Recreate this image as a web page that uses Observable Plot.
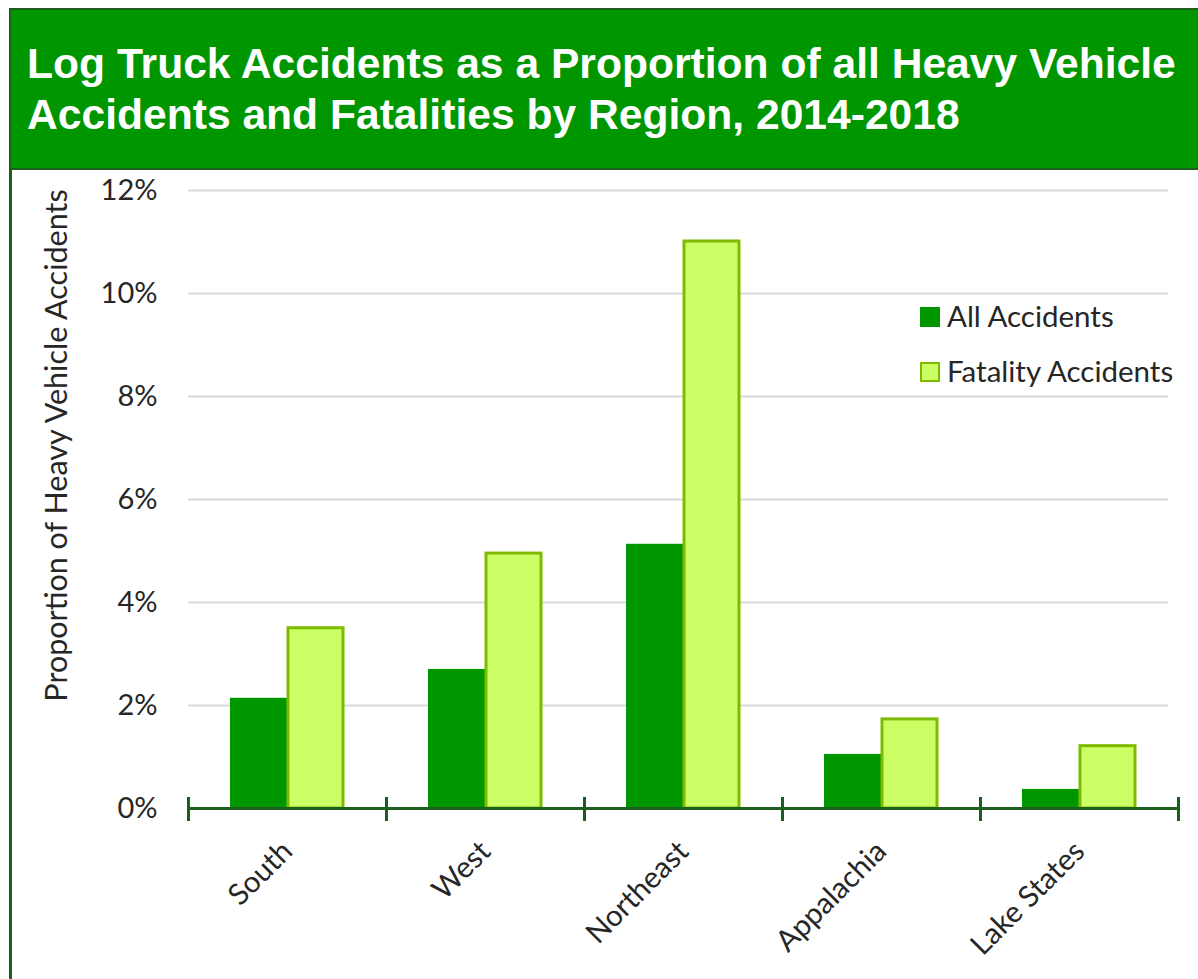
<!DOCTYPE html>
<html>
<head>
<meta charset="utf-8">
<script src="https://cdn.jsdelivr.net/npm/d3@7"></script>
<script src="https://cdn.jsdelivr.net/npm/@observablehq/plot@0.6"></script>
<style>
  html, body { margin: 0; padding: 0; background: #fff; }
  #page { position: relative; width: 1198px; height: 979px; overflow: hidden; background: #fff; }
  #banner { position: absolute; left: 9px; top: 8px; width: 1200px; height: 158px; background: #009600; border: 2px solid #1c5e1c; box-sizing: content-box; }
  #title { position: absolute; left: 16px; top: 28px; color: #fff; font-family: "Liberation Sans", Arial, sans-serif; font-weight: bold; font-size: 42.6px; line-height: 51px; white-space: nowrap; }
  #leftline { position: absolute; left: 9px; top: 168px; width: 3px; height: 811px; background: #1c5e1c; }
  #chart { position: absolute; left: 12px; top: 168px; }
  #legend { position: absolute; left: 920px; top: 299px; font-family: Lato, sans-serif; font-size: 29.5px; color: #262626; }
  .item { position: absolute; left: 0; white-space: nowrap; height: 34px; }
  .sw { position: absolute; left: 0; top: 8px; width: 20px; height: 20px; box-sizing: border-box; }
  .lab { position: absolute; left: 27px; top: 0; line-height: 34px; }
</style>
</head>
<body>
<div id="page">
  <div id="banner"><div id="title">Log Truck Accidents as a Proportion of all Heavy Vehicle<br>Accidents and Fatalities by Region, 2014-2018</div></div>
  <div id="leftline"></div>
  <div id="chart"></div>
  <div id="legend"></div>
</div>
<script>
const regions = ["South", "West", "Northeast", "Appalachia", "Lake States"];
const allAccidents = [2.14, 2.70, 5.13, 1.05, 0.37];
const fatalityAccidents = [3.50, 4.95, 11.01, 1.73, 1.21];
const seriesNames = ["All Accidents", "Fatality Accidents"];
const yTicks = [0, 2, 4, 6, 8, 10, 12];
const yLabel = "Proportion of Heavy Vehicle Accidents";

const darkGreen = "#009600";
const lightFill = "#ccff66";
const lightStroke = "#7cbb00";
const axisColor = "#1c5e1c";

const rows = regions.flatMap((r, i) => [
  {region: r, series: seriesNames[0], value: allAccidents[i]},
  {region: r, series: seriesNames[1], value: fatalityAccidents[i]}
]);
const gridTicks = yTicks.filter(v => v > 0);
const gridRows = regions.flatMap(r => gridTicks.map(v => ({region: r, v})));
const lastRegion = regions[regions.length - 1];

const W = 1186, H = 811, mL = 176, mR = 20, mT = 22, mB = 171;
const frameH = H - mT - mB;
const tickStyle = {stroke: axisColor, strokeWidth: 3, insetTop: frameH - 10, insetBottom: -11};
const gridStyle = {fx: "region", y: "v", stroke: "#d9d9d9", strokeWidth: 2};

const chart = Plot.plot({
  width: W,
  height: H,
  marginLeft: mL,
  marginRight: mR,
  marginTop: mT,
  marginBottom: mB,
  style: {fontFamily: "Lato, sans-serif", fontSize: "29px", color: "#262626", background: "transparent", overflow: "visible"},
  fx: {domain: regions, padding: 0, label: null},
  x: {domain: seriesNames, paddingInner: 0, paddingOuter: 0.72, axis: null},
  y: {domain: [0, 12], label: null},
  marks: [
    Plot.ruleY(gridRows.filter(d => d.region !== lastRegion), gridStyle),
    Plot.ruleY(gridRows.filter(d => d.region === lastRegion), {...gridStyle, insetRight: 10}),
    Plot.barY(rows.filter(d => d.series === seriesNames[0]), {fx: "region", x: "series", y: "value", fill: darkGreen}),
    Plot.barY(rows.filter(d => d.series === seriesNames[1]), {fx: "region", x: "series", y: "value", fill: lightFill, stroke: lightStroke, strokeWidth: 3, insetLeft: 1, insetRight: 1}),
    Plot.ruleY([0], {stroke: axisColor, strokeWidth: 3}),
    Plot.frame({anchor: "left", ...tickStyle}),
    Plot.frame({anchor: "right", fx: () => lastRegion, ...tickStyle}),
    Plot.axisY({ticks: yTicks, tickFormat: d => d + "%", tickSize: 0, tickPadding: 31, label: null, fontSize: 29}),
    Plot.text([yLabel], {fx: () => regions[0], text: d => d, frameAnchor: "left", rotate: -90, textAnchor: "middle", lineAnchor: "middle", dx: -131, dy: -54, fontSize: 30.5, fill: "#262626"}),
    Plot.axisFx({anchor: "bottom", tickRotate: -45, tickSize: 0, tickPadding: 38, label: null, fontSize: 29.5})
  ]
});
document.getElementById("chart").appendChild(chart);

const legend = document.getElementById("legend");
const legendStyles = [
  {fill: darkGreen, stroke: darkGreen},
  {fill: lightFill, stroke: lightStroke}
];
seriesNames.forEach((name, i) => {
  const item = document.createElement("div");
  item.className = "item";
  item.style.top = (i * 55) + "px";
  const sw = document.createElement("div");
  sw.className = "sw";
  sw.style.background = legendStyles[i].fill;
  sw.style.border = "2px solid " + legendStyles[i].stroke;
  const lab = document.createElement("div");
  lab.className = "lab";
  lab.textContent = name;
  item.appendChild(sw);
  item.appendChild(lab);
  legend.appendChild(item);
});
</script>
</body>
</html>
